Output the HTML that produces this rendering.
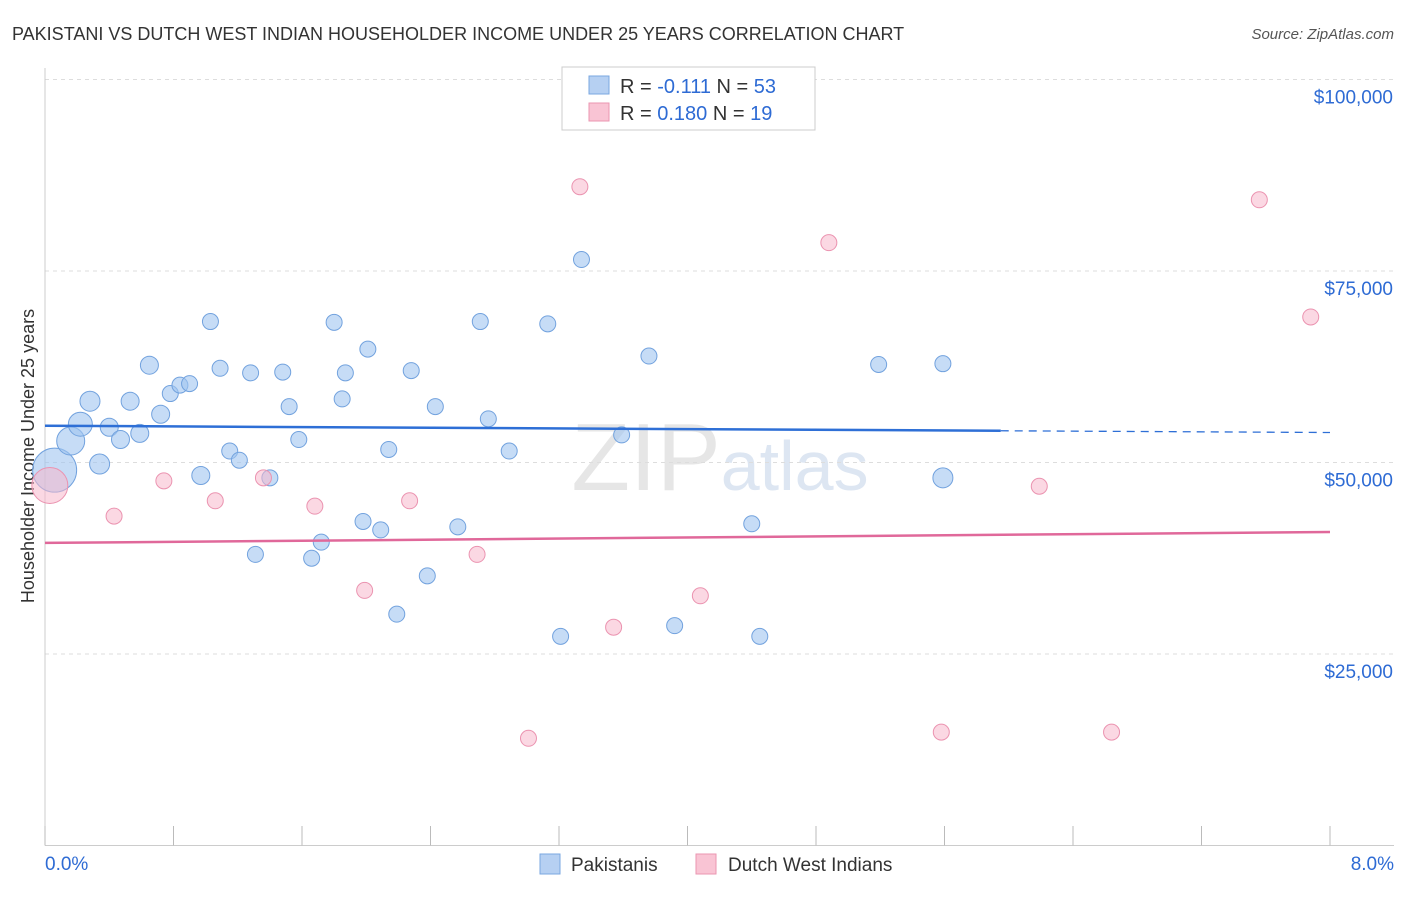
<!DOCTYPE html>
<html><head><meta charset="utf-8"><style>
body{margin:0;background:#fff;font-family:"Liberation Sans",sans-serif;}
svg text{font-family:"Liberation Sans",sans-serif;}
</style></head><body>
<svg width="1406" height="892" id="chart">
<text x="12" y="40" font-size="18" fill="#333">PAKISTANI VS DUTCH WEST INDIAN HOUSEHOLDER INCOME UNDER 25 YEARS CORRELATION CHART</text>
<text x="1394" y="39" font-size="15" fill="#555" text-anchor="end" font-style="italic">Source: ZipAtlas.com</text>
<text x="720" y="490" font-size="96" fill="#e6e6e6" text-anchor="middle" font-family="Liberation Serif">ZIP<tspan font-family="Liberation Sans" font-size="70" fill="#dde6f2">atlas</tspan></text>
<g id="grid"></g>
<g id="axes"></g>
<text transform="translate(34,456) rotate(-90)" font-size="18" fill="#333" text-anchor="middle">Householder Income Under 25 years</text>
<g id="marks"></g>
<g>
<rect x="562" y="67" width="253" height="63" fill="#fff" stroke="#ccc"/>
<rect x="589" y="76" width="20" height="18" fill="#b6d0f2" stroke="#7aa7e0"/>
<rect x="589" y="103" width="20" height="18" fill="#f9c4d4" stroke="#eb96b1"/>
<text x="620" y="93" font-size="20" fill="#333">R = <tspan fill="#2e6bd4">-0.111</tspan>   N = <tspan fill="#2e6bd4">53</tspan></text>
<text x="620" y="120" font-size="20" fill="#333">R = <tspan fill="#2e6bd4">0.180</tspan>   N =  <tspan fill="#2e6bd4">19</tspan></text>
</g>
<g>
<rect x="540" y="854" width="20" height="20" fill="#b6d0f2" stroke="#7aa7e0"/>
<text x="571" y="871" font-size="19" fill="#333">Pakistanis</text>
<rect x="696" y="854" width="20" height="20" fill="#f9c4d4" stroke="#eb96b1"/>
<text x="728" y="871" font-size="19" fill="#333">Dutch West Indians</text>
</g>
</svg>
<script>
const yTicks=[25000,50000,75000,100000];
const yTickLabels=["$25,000","$50,000","$75,000","$100,000"];
const xTickLabels=["0.0%","8.0%"];
const blueX=[0.06,0.16,0.22,0.28,0.34,0.40,0.47,0.53,0.59,0.65,0.72,0.78,0.84,0.90,0.97,1.03,1.09,1.15,1.21,1.28,1.31,1.40,1.48,1.52,1.58,1.66,1.72,1.80,1.85,1.87,1.98,2.01,2.09,2.14,2.19,2.28,2.38,2.43,2.57,2.71,2.76,2.89,3.13,3.21,3.34,3.59,3.76,3.92,4.40,4.45,5.19,5.59];
const blueY=[49000,52800,55000,58000,49800,54600,53000,58000,53800,62700,56300,59000,60100,60300,48300,68400,62300,51500,50300,61700,38000,48000,61800,57300,53000,37500,39600,68300,58300,61700,42300,64800,41200,51700,30200,62000,35200,57300,41600,68400,55700,51500,68100,27300,76500,53600,63900,28700,42000,27300,62800];
const blueR=[22,14,12,10,10,9,9,9,9,9,9,8,8,8,9,8,8,8,8,8,8,8,8,8,8,8,8,8,8,8,8,8,8,8,8,8,8,8,8,8,8,8,8,8,8,8,8,8,8,8,8];
blueX.push(5.59);blueY.push(62900);blueR.push(8);
blueX.push(0.0);blueY.push(48000);blueR.push(10);
const pinkX=[0.03,0.43,0.74,1.06,1.36,1.68,1.99,2.27,2.69,3.01,3.33,3.54,4.08,4.88,5.58,6.19,6.64,7.56,7.88];
const pinkY=[47000,43000,47600,45000,48000,44300,33300,45000,38000,14000,86000,28500,32600,78700,14800,46900,14800,84300,69000];
const pinkR=[18,8,8,8,8,8,8,8,8,8,8,8,8,8,8,8,8,8,8];
const blueTrend=[54800,-0.111];
const pinkTrend=[39500,0.18];
const X=v=>45+v/8*1285, Y=v=>845.5-v/25000*191.5;
const NS="http://www.w3.org/2000/svg";
function mk(t,a,p){const e=document.createElementNS(NS,t);for(const k in a)e.setAttribute(k,a[k]);document.getElementById(p).appendChild(e);return e;}
yTicks.forEach((t,i)=>{
 const g=mk('line',{x1:45,x2:1394,y1:Y(t),y2:Y(t),stroke:'#ddd','stroke-dasharray':'4,4'},'grid');
 
 
 const l=mk('text',{x:1393,y:Y(t)+24,'font-size':19,fill:'#2e6bd4','text-anchor':'end'},'axes');l.textContent=yTickLabels[i];
 
 
});
mk('line',{x1:45,x2:1394,y1:845.5,y2:845.5,stroke:'#ccc'},'axes');
mk('line',{x1:45,x2:45,y1:68,y2:845.5,stroke:'#ccc'},'axes');
for(let i=0;i<=10;i++){const t=mk('line',{x1:X(i*0.8),x2:X(i*0.8),y1:826,y2:845.5,stroke:'#bbb'},'axes');
 
 }
[[0,'start',45],[8,'end',1394]].forEach((d,i)=>{const l=mk('text',{x:d[2],y:870,'font-size':19,fill:'#2e6bd4','text-anchor':d[1]},'axes');l.textContent=xTickLabels[i];
 
 });
blueX.forEach((x,i)=>{const c=mk('circle',{cx:X(x),cy:Y(blueY[i]),r:blueR[i],fill:'rgba(160,196,240,0.6)',stroke:'#72a2de','stroke-width':1},'marks');
 
 });
pinkX.forEach((x,i)=>{const c=mk('circle',{cx:X(x),cy:Y(pinkY[i]),r:pinkR[i],fill:'rgba(248,184,204,0.55)',stroke:'#eb93b0','stroke-width':1},'marks');
 
 });
const bt=x=>blueTrend[0]+blueTrend[1]*x*1000/0.8*0.8*0+blueTrend[1]*x*1000;
const bl=mk('line',{x1:X(0),y1:Y(blueTrend[0]),x2:X(5.95),y2:Y(blueTrend[0]+blueTrend[1]*5.95*1000*5.1/0.8/6.4),stroke:'#2e6fd6','stroke-width':2.5},'marks');


const k=blueTrend[1]*1000*5.1/0.8/6.4;
bl.setAttribute('y2',Y(blueTrend[0]+k*5.95));
const bd=mk('line',{x1:X(5.95),y1:Y(blueTrend[0]+k*5.95),x2:X(8),y2:Y(blueTrend[0]+k*8),stroke:'#2e6fd6','stroke-width':1.3,'stroke-dasharray':'8,6'},'marks');


const kp=pinkTrend[1]*1000*9.6/8*6.6/8;
const pl=mk('line',{x1:X(0),y1:Y(pinkTrend[0]),x2:X(8),y2:Y(pinkTrend[0]+kp*8),stroke:'#e0689a','stroke-width':2.5},'marks');


</script>
</body></html>
